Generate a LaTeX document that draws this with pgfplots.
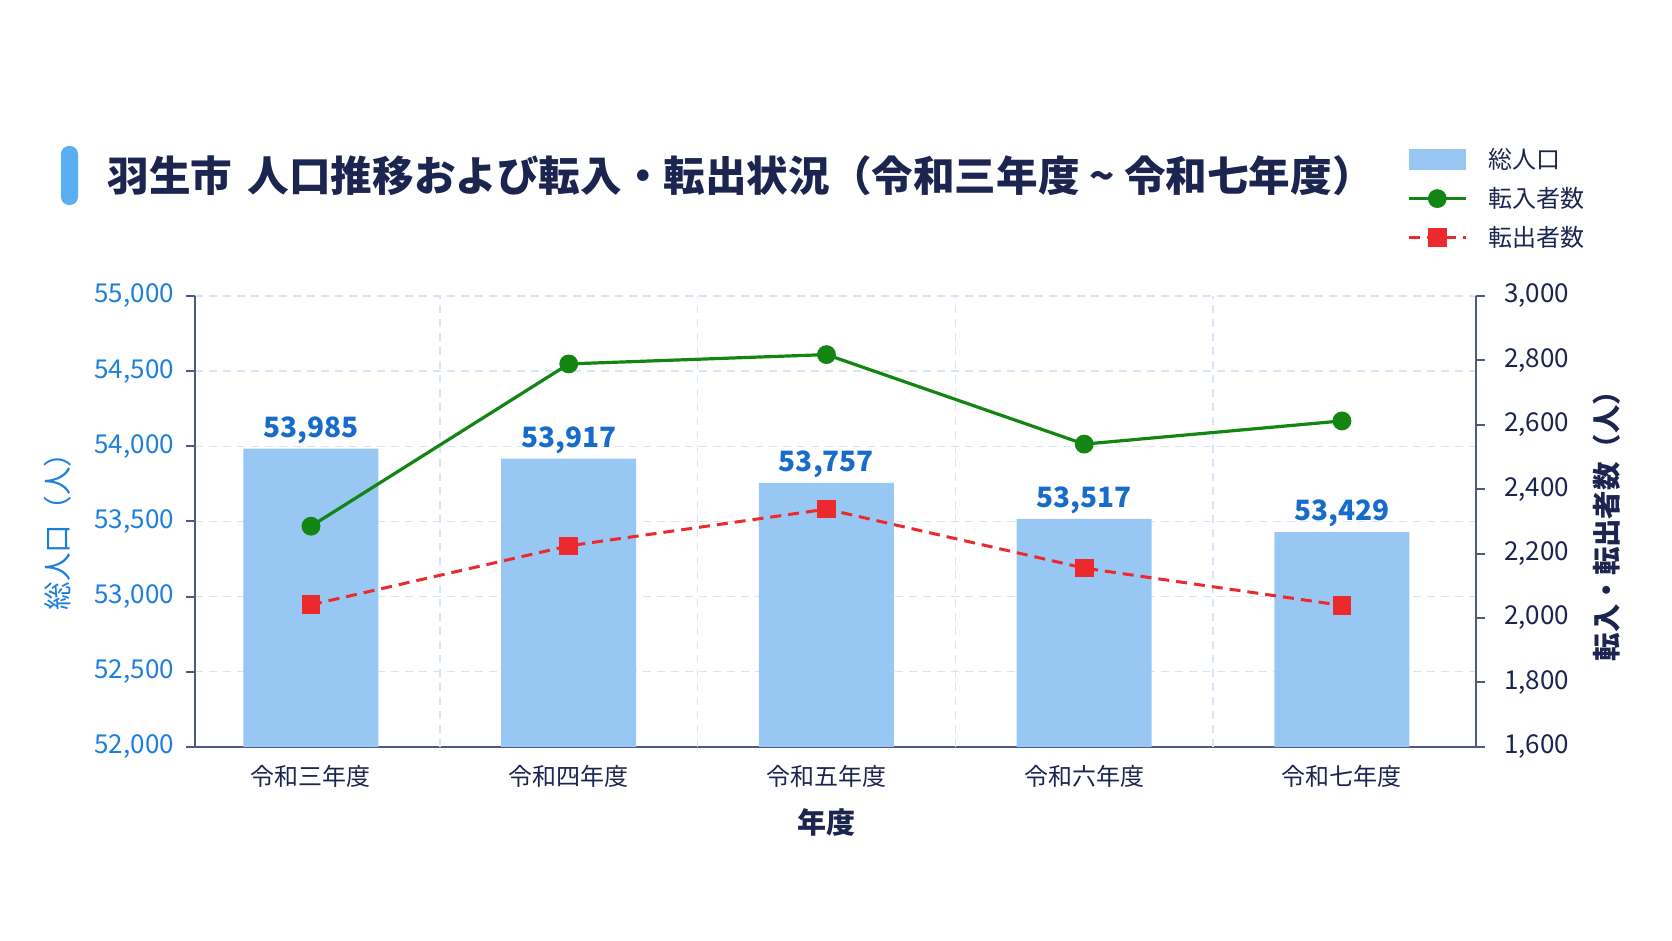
\documentclass[border=0pt]{standalone}
\usepackage{fontspec}
\setmainfont{Noto Sans CJK JP}
\usepackage{pgfplots}
\pgfplotsset{compat=1.18}
\definecolor{barblue}{HTML}{97C7F2}
\definecolor{valblue}{HTML}{176BCB}
\definecolor{tickblue}{HTML}{1E7EDC}
\definecolor{navy}{HTML}{1C2450}
\definecolor{axiscol}{HTML}{4F5A7E}
\definecolor{gridcol}{HTML}{D8E5F5}
\definecolor{lgreen}{HTML}{138513}
\definecolor{lred}{HTML}{EC2A2E}
\definecolor{titlebar}{HTML}{5AAEF2}
\pgfkeys{/pgf/number format/.cd, 1000 sep={,}, assume math mode=true}
\pgfplotsset{
  mylineleg/.style={legend image code/.code={\draw[mark repeat=2,mark phase=2,##1] plot coordinates {(0pt,0pt) (14.25pt,0pt) (28.5pt,0pt)}; \path[draw=none,fill=none] (0pt,-6pt) rectangle (39pt,6pt);}},
  mybarleg/.style={legend image code/.code={\fill[barblue,draw=none] (0pt,-5.25pt) rectangle (28.5pt,5.25pt); \path[draw=none,fill=none] (0pt,-6pt) rectangle (39pt,6pt);}},
}
\begin{document}
\begin{tikzpicture}[x=1pt,y=1pt]
\useasboundingbox (0,0) rectangle (836,470.5);
\fill[titlebar, rounded corners=4pt] (30.5,368) rectangle (39,397.5);
\node[anchor=west, text=navy, font=\bfseries\fontsize{20.8}{20.8}\selectfont, inner sep=0pt] at (53.5,382.5) {羽生市\hspace{3pt} 人口推移および転入・転出状況（令和三年度 \textasciitilde{} 令和七年度）};

\begin{axis}[
  at={(97.5pt,97.1pt)}, anchor=south west,
  scale only axis, width=640.5pt, height=225.4pt,
  xmin=-0.45, xmax=4.52, ymin=52000, ymax=55000,
  axis x line*=bottom, axis y line*=left,
  axis line style={-, draw=axiscol, line width=1pt},
  ytick={52000,52500,...,55000},
  scaled y ticks=false,
  xtick={0,1,2,3,4},
  xticklabels={令和三年度,令和四年度,令和五年度,令和六年度,令和七年度},
  xtick style={draw=none},
  ytick style={draw=axiscol, line width=1pt},
  tick align=outside, major tick length=4.5pt,
  ymajorgrids,
  major grid style={draw=gridcol, dash pattern=on 4pt off 3pt, line width=0.7pt},
  extra x ticks={0.5,1.5,2.5,3.5}, extra x tick labels={},
  extra x tick style={grid=major, major tick length=0pt},
  yticklabel style={font=\fontsize{13}{13}\selectfont, text=tickblue, xshift=-2.5pt},
  xticklabel style={font=\fontsize{12}{12}\selectfont, text=navy, yshift=-1.3pt},
  ylabel={総人口（人）},
  ylabel style={at={(axis description cs:-0.1076,0.493)}, anchor=center, font=\fontsize{14.3}{14.3}\selectfont, text=tickblue},
  xlabel={年度},
  xlabel style={at={(axis description cs:0.4926,-0.1668)}, anchor=center, font=\bfseries\fontsize{14.5}{14.5}\selectfont, text=navy},
  clip=false,
]
\addplot[ybar, bar width=67.5pt, fill=barblue, draw=none,
  nodes near coords,
  nodes near coords style={font=\bfseries\fontsize{14}{14}\selectfont, text=valblue, anchor=south, yshift=-1pt}]
  coordinates {(0,53985) (1,53917) (2,53757) (3,53517) (4,53429)};
\end{axis}

\begin{axis}[
  at={(97.5pt,97.1pt)}, anchor=south west,
  scale only axis, width=640.5pt, height=225.4pt,
  xmin=-0.45, xmax=4.52, ymin=1600, ymax=3000,
  axis x line=none, axis y line*=right,
  axis line style={-, draw=axiscol, line width=1pt},
  ytick={1600,1800,...,3000},
  ytick style={draw=axiscol, line width=1pt},
  tick align=outside, major tick length=4.5pt,
  yticklabel style={font=\fontsize{13}{13}\selectfont, text=navy, xshift=6pt},
  ylabel={転入・転出者数（人）},
  ylabel style={at={(axis description cs:1.1023,0.505)}, anchor=center, rotate=0, font=\bfseries\fontsize{14.2}{14.2}\selectfont, text=navy},
  legend style={at={(axis description cs:0.946,1.334)}, anchor=north west, draw=none, fill=none, inner sep=0pt,
    row sep=6pt, font=\fontsize{12}{12}\selectfont, text=navy, nodes={inner sep=1pt}},
  legend cell align=left,
  clip=false,
]
\addlegendimage{mybarleg}
\addlegendentry{総人口}
\addplot[lgreen, line width=1.6pt, mark=*, mark size=3.9pt, mark options={fill=lgreen, draw=lgreen}, mylineleg]
  coordinates {(0,2285) (1,2789) (2,2818) (3,2540) (4,2612)};
\addlegendentry{転入者数}
\addplot[lred, line width=1.5pt, dash pattern=on 5.5pt off 3.5pt, mark=square*, mark size=3.9pt, mark options={solid, fill=lred, draw=lred}, mylineleg]
  coordinates {(0,2041) (1,2224) (2,2338) (3,2155) (4,2039)};
\addlegendentry{転出者数}
\end{axis}
\end{tikzpicture}
\end{document}
